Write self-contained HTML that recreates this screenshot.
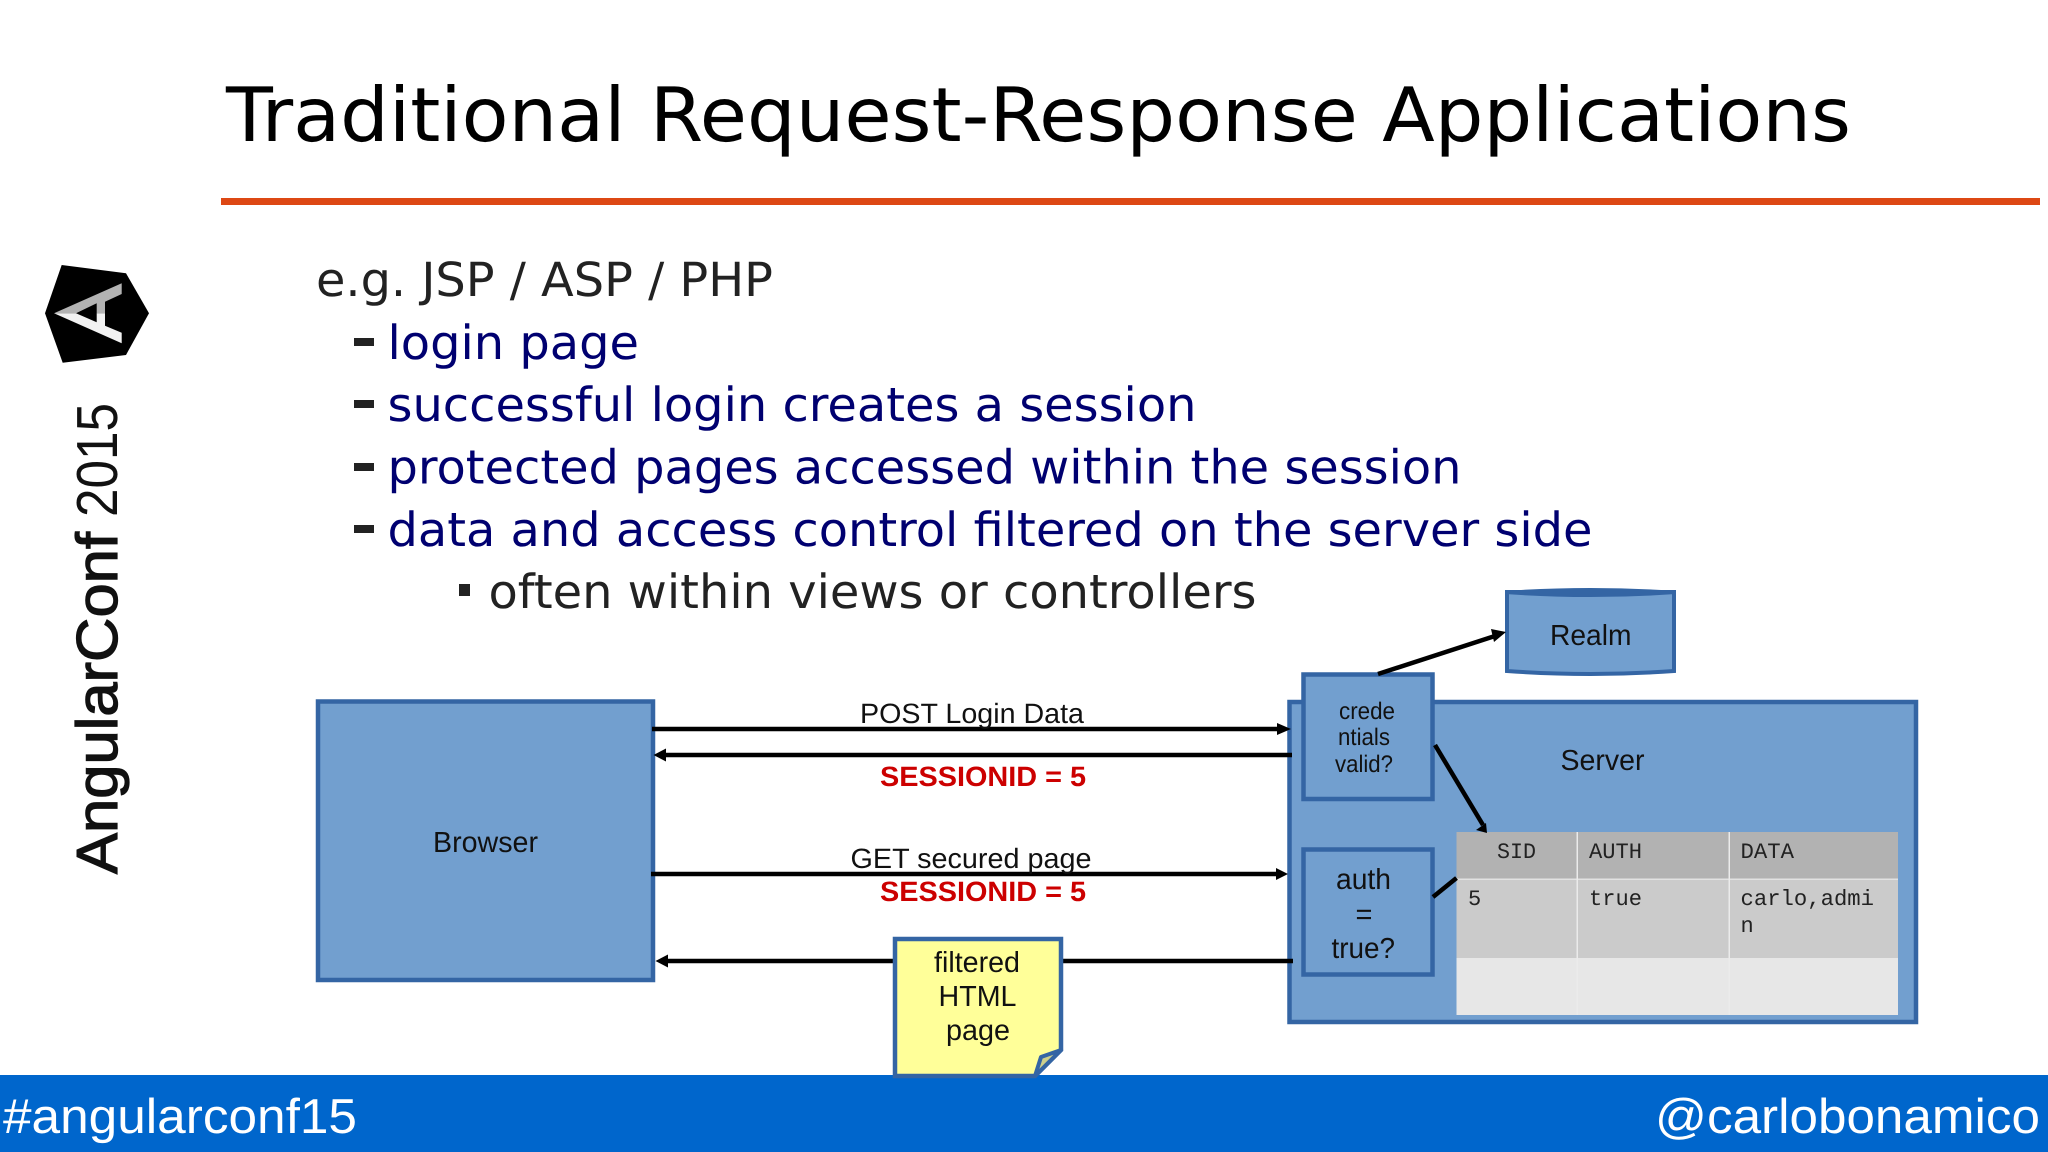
<!DOCTYPE html>
<html><head><meta charset="utf-8"><title>Traditional Request-Response Applications</title>
<style>
html,body{margin:0;padding:0;background:#fff;width:2048px;height:1152px;overflow:hidden}
svg{display:block}
text{font-family:"Liberation Sans",sans-serif;fill:#111;text-rendering:geometricPrecision;font-variant-ligatures:normal}
.dj{font-family:"DejaVu Sans",sans-serif}
.m{font-family:"Liberation Mono",monospace;font-size:22px;fill:#222}
.b{fill:#000070}
.g{fill:#222}
.s{font-size:28px}
.r{font-size:28px;font-weight:bold;fill:#cc0000}
.w{font-size:49px;fill:#fff}
</style></head><body>
<svg width="2048" height="1152" viewBox="0 0 2048 1152" xmlns="http://www.w3.org/2000/svg">
<rect width="2048" height="1152" fill="#fff"/>
<text class="dj" x="226" y="141" font-size="75" style="fill:#000" textLength="1625" lengthAdjust="spacingAndGlyphs">Traditional Request-Response Applications</text>
<rect x="221" y="198" width="1819" height="7" fill="#dd4814"/>

<!-- logo -->
<polygon points="61.7,265 126,273.3 149,313.3 126,355 62.7,362.7 45,313.3" fill="#000"/>
<polygon points="54,313.3 121.7,283.3 121.7,294 105,301.7 105,313.3 96.7,313.3 96.7,303.3 76,313.3" fill="#b3b3b3"/>
<polygon points="54,313.3 76,313.3 96.7,322.3 96.7,313.3 105,313.3 105,325.7 121.7,332.7 121.7,343.3" fill="#f2f2f2"/>
<text transform="translate(117,874) rotate(-90)" font-size="58" stroke="#111" stroke-width="1.2" textLength="342" lengthAdjust="spacingAndGlyphs">AngularConf</text>
<text transform="translate(117,517) rotate(-90)" font-size="58" textLength="114" lengthAdjust="spacingAndGlyphs">2015</text>

<!-- bullets -->
<text class="dj g" x="316" y="296" font-size="47" textLength="457" lengthAdjust="spacingAndGlyphs">e.g. JSP / ASP / PHP</text>
<rect x="354" y="338" width="20" height="8" fill="#222"/>
<rect x="354" y="400" width="20" height="8" fill="#222"/>
<rect x="354" y="463" width="20" height="8" fill="#222"/>
<rect x="354" y="525" width="20" height="8" fill="#222"/>
<rect x="459" y="584" width="11" height="12" fill="#222"/>
<text class="dj b" x="387.5" y="359" font-size="47" textLength="251.5" lengthAdjust="spacingAndGlyphs">login page</text>
<text class="dj b" x="387.5" y="421" font-size="47" textLength="809" lengthAdjust="spacingAndGlyphs">successful login creates a session</text>
<text class="dj b" x="387.5" y="483.5" font-size="47" textLength="1074" lengthAdjust="spacingAndGlyphs">protected pages accessed within the session</text>
<text class="dj b" x="387.5" y="546" font-size="47" textLength="1205" lengthAdjust="spacingAndGlyphs">data and access control filtered on the server side</text>
<text class="dj g" x="488.5" y="608" font-size="47" textLength="768" lengthAdjust="spacingAndGlyphs">often within views or controllers</text>

<!-- Realm -->
<path d="M1507,592 H1674 V671 Q1590,677 1507,671 Z" fill="#729fcf" stroke="#3465a4" stroke-width="4"/>
<path d="M1505,591 Q1590,585 1676,591 V594 Q1590,600 1505,594 Z" fill="#3465a4"/>
<text x="1550" y="645" font-size="29" textLength="81.5" lengthAdjust="spacingAndGlyphs">Realm</text>

<!-- Server -->
<rect x="1289.5" y="702" width="626.5" height="320" fill="#729fcf" stroke="#3465a4" stroke-width="4.5"/>
<text x="1560.5" y="770" font-size="29" textLength="84" lengthAdjust="spacingAndGlyphs">Server</text>

<!-- Table -->
<rect x="1456.5" y="832" width="441.5" height="47" fill="#b2b2b2"/>
<rect x="1456.5" y="879" width="441.5" height="79" fill="#cbcbcb"/>
<rect x="1456.5" y="958" width="441.5" height="57" fill="#e7e7e7"/>
<rect x="1456.5" y="878.5" width="441.5" height="1.5" fill="#e2e2e2"/>
<rect x="1576.5" y="832" width="1.5" height="183" fill="#ebebeb"/>
<rect x="1728.5" y="832" width="1.5" height="183" fill="#ebebeb"/>
<text class="m" x="1497" y="858" textLength="39" lengthAdjust="spacingAndGlyphs">SID</text>
<text class="m" x="1589" y="858" textLength="53" lengthAdjust="spacingAndGlyphs">AUTH</text>
<text class="m" x="1740.5" y="858" textLength="53.5" lengthAdjust="spacingAndGlyphs">DATA</text>
<text class="m" x="1468" y="905">5</text>
<text class="m" x="1589" y="905" textLength="53" lengthAdjust="spacingAndGlyphs">true</text>
<text class="m" x="1740.5" y="905" textLength="133.5" lengthAdjust="spacingAndGlyphs">carlo,admi</text>
<text class="m" x="1740.5" y="932">n</text>

<!-- Cred / auth boxes -->
<rect x="1303.5" y="674.5" width="129" height="124.5" fill="#729fcf" stroke="#3465a4" stroke-width="4.5"/>
<text x="1339" y="719" font-size="24" textLength="56" lengthAdjust="spacingAndGlyphs">crede</text>
<text x="1338" y="745" font-size="24" textLength="52" lengthAdjust="spacingAndGlyphs">ntials</text>
<text x="1335" y="772" font-size="24" textLength="58" lengthAdjust="spacingAndGlyphs">valid?</text>
<rect x="1303.5" y="849.5" width="129" height="125" fill="#729fcf" stroke="#3465a4" stroke-width="4.5"/>
<text x="1336" y="889" font-size="29" textLength="55" lengthAdjust="spacingAndGlyphs">auth</text>
<text x="1355.5" y="924" font-size="29">=</text>
<text x="1331.5" y="958" font-size="29" textLength="63.5" lengthAdjust="spacingAndGlyphs">true?</text>

<!-- Browser -->
<rect x="318" y="701.5" width="335" height="278.5" fill="#729fcf" stroke="#3465a4" stroke-width="4.5"/>
<text x="433" y="852" font-size="29" textLength="105" lengthAdjust="spacingAndGlyphs">Browser</text>

<!-- Connectors -->
<g stroke="#000" stroke-width="4.5" fill="none">
<line x1="652" y1="729" x2="1280" y2="729"/>
<line x1="664" y1="755" x2="1292" y2="755"/>
<line x1="651" y1="874" x2="1277" y2="874"/>
<line x1="664" y1="961" x2="1293" y2="961"/>
<line x1="1378" y1="674" x2="1495" y2="636"/>
<line x1="1435" y1="745" x2="1483" y2="825"/>
<line x1="1433" y1="897" x2="1456.5" y2="878"/>
</g>
<g fill="#000">
<polygon points="1291,729 1277,723 1277,735"/>
<polygon points="653.5,755 666,748.5 666,761.5"/>
<polygon points="1288,874 1276,868 1276,880"/>
<polygon points="655.5,961 668,954.5 668,967.5"/>
<polygon points="1506,632 1491,629 1494,642"/>
<polygon points="1487,833 1476,830 1486,823"/>
</g>

<!-- Labels -->
<text class="s" x="860" y="723" textLength="224" lengthAdjust="spacingAndGlyphs">POST Login Data</text>
<text class="r" x="880" y="786" textLength="206" lengthAdjust="spacingAndGlyphs">SESSIONID = 5</text>
<text class="s" x="850.5" y="868" textLength="241" lengthAdjust="spacingAndGlyphs">GET secured page</text>
<text class="r" x="880" y="901" textLength="206" lengthAdjust="spacingAndGlyphs">SESSIONID = 5</text>

<!-- Banner -->
<rect x="0" y="1075" width="2048" height="77" fill="#0066cc"/>
<text class="w" x="3" y="1133" textLength="354" lengthAdjust="spacingAndGlyphs">#angularconf15</text>
<text class="w" x="1655" y="1133" textLength="385" lengthAdjust="spacingAndGlyphs">@carlobonamico</text>

<!-- Note -->
<path d="M895,939 H1061 V1050 L1035,1076 H895 Z" fill="#ffff99" stroke="#3465a4" stroke-width="4.5"/>
<polygon points="1061,1050 1041,1057 1035,1076" fill="#cdd08c" stroke="#3465a4" stroke-width="4" stroke-linejoin="round"/>
<text x="934" y="972" font-size="29" textLength="86" lengthAdjust="spacingAndGlyphs">filtered</text>
<text x="938.5" y="1006" font-size="29" textLength="78" lengthAdjust="spacingAndGlyphs">HTML</text>
<text x="946" y="1040" font-size="29" textLength="64" lengthAdjust="spacingAndGlyphs">page</text>
</svg>
</body></html>
